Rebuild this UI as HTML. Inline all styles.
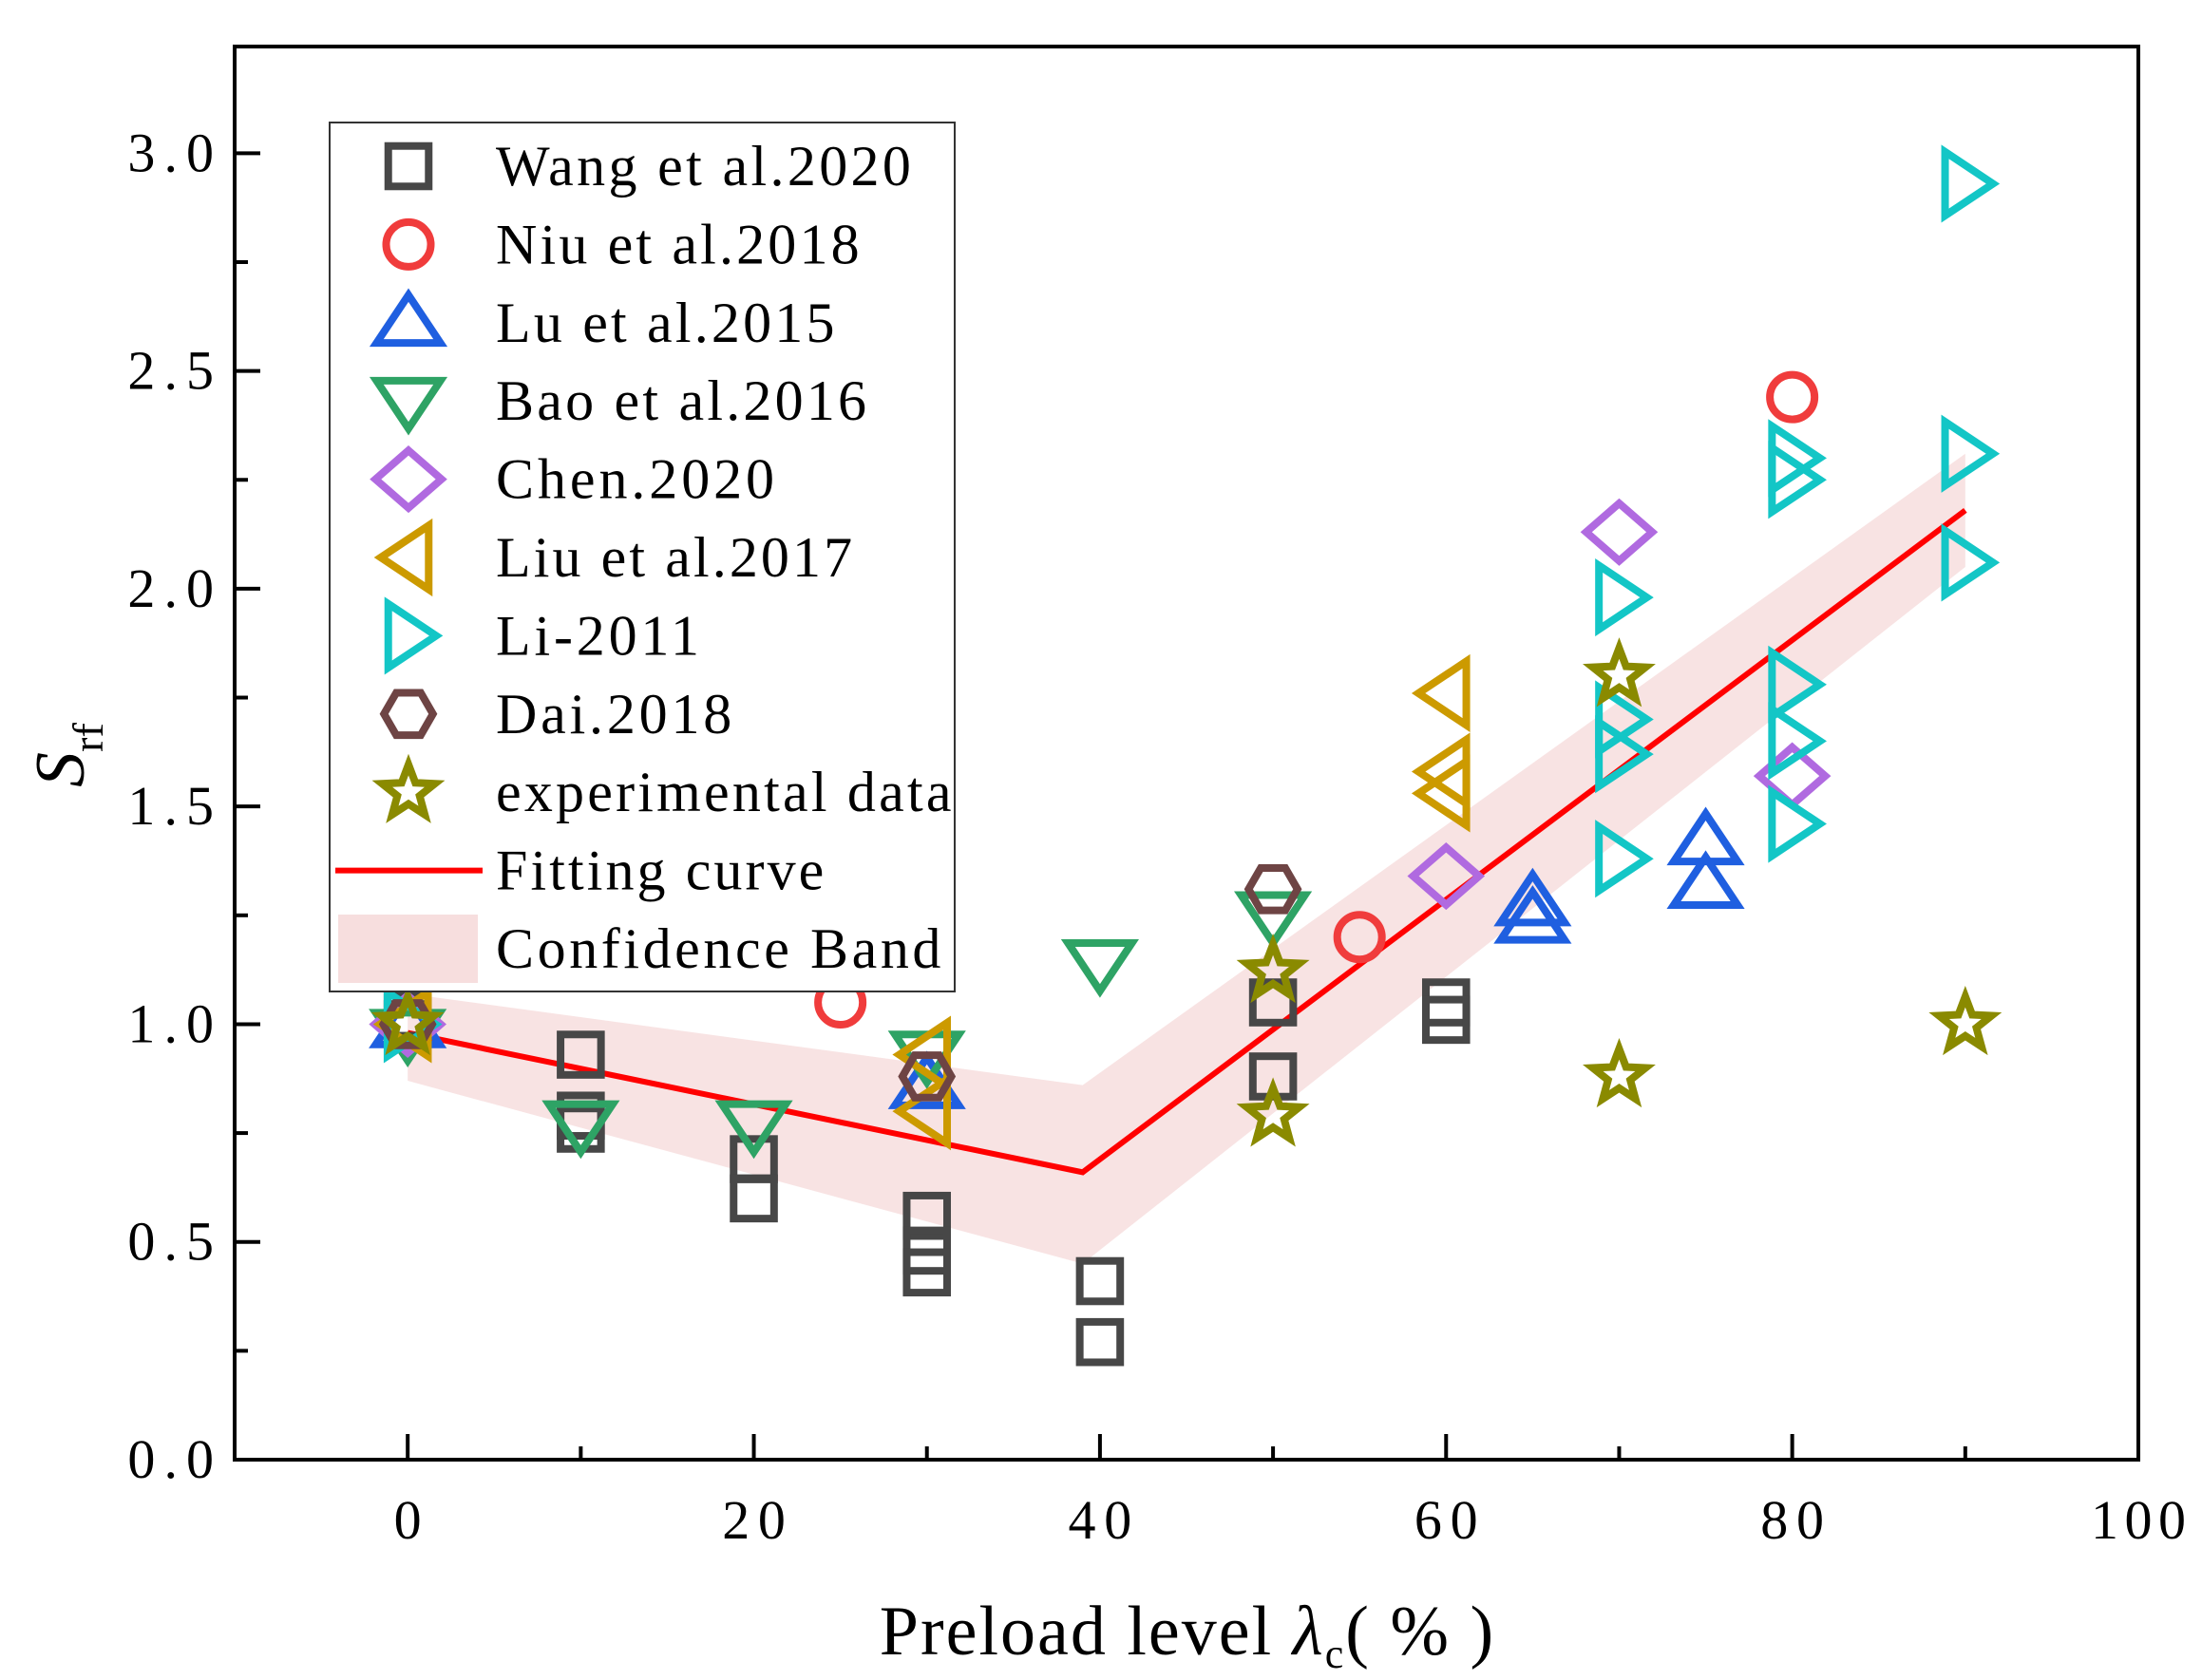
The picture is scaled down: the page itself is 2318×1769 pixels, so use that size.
<!DOCTYPE html>
<html><head><meta charset="utf-8"><style>
html,body{margin:0;padding:0;background:#fff;}
svg{display:block;font-family:"Liberation Serif",serif;}
</style></head><body>
<svg id="chart" width="2318" height="1769" viewBox="0 0 2318 1769" xmlns="http://www.w3.org/2000/svg">
<g id="band"></g>
<g id="fit"></g>
<g id="marks"></g>
<g id="axes"></g>
<g id="legend"></g>
</svg>
<script>
const xTicks=[0,20,40,60,80,100];
const yTicks=[0.0,0.5,1.0,1.5,2.0,2.5,3.0];
const wangX=[0,0,10,10,10,20,20,30,30,30,40,40,50,50,60,60];
const wangY=[1.0,1.02,0.93,0.79,0.76,0.69,0.6,0.56,0.48,0.43,0.41,0.27,1.05,0.88,1.05,1.01];
const niuX=[0,25,55,80];
const niuY=[1.0,1.05,1.2,2.44];
const luX=[0,30,65,65,75,75];
const luY=[1.0,0.86,1.28,1.24,1.42,1.32];
const baoX=[0,10,20,30,40,50];
const baoY=[0.98,0.77,0.77,0.93,1.14,1.25];
const chenX=[0,60,70,80];
const chenY=[1.0,1.34,2.13,1.57];
const liuX=[0,30,30,60,60,60];
const liuY=[1.0,0.93,0.8,1.76,1.58,1.53];
const liX=[0,70,70,70,70,80,80,80,80,80,90,90,90];
const liY=[1.0,1.98,1.7,1.62,1.38,2.3,2.25,1.78,1.65,1.46,2.93,2.31,2.06];
const daiX=[0,30,50];
const daiY=[1.0,0.88,1.31];
const expX=[0,50,50,70,70,90];
const expY=[1.0,1.12,0.79,1.8,0.88,1.0];
const fitX=[0,39,90];
const fitY=[0.98,0.66,2.18];
const bandX=[0,39,90];
const bandUpper=[1.07,0.86,2.31];
const bandLower=[0.87,0.45,2.05];

const L=247,R=2251,T=49,B=1537,XMIN=-10,XMAX=100,YMIN=0,YMAX=3.245;
const sx=v=>L+(v-XMIN)/(XMAX-XMIN)*(R-L);
const sy=v=>B-(v-YMIN)/(YMAX-YMIN)*(B-T);
const NS="http://www.w3.org/2000/svg";
function mk(tag,attrs,parent){const e=document.createElementNS(NS,tag);for(const k in attrs)e.setAttribute(k,attrs[k]);parent.appendChild(e);return e;}
function widen(t,f){const w=t.getComputedTextLength();t.setAttribute('textLength',w*f);t.setAttribute('lengthAdjust','spacing');}

const bandG=document.getElementById('band');
let pts=bandX.map((x,i)=>sx(x)+','+sy(bandUpper[i]));
for(let i=bandX.length-1;i>=0;i--)pts.push(sx(bandX[i])+','+sy(bandLower[i]));
const bp=mk('polygon',{points:pts.join(' '),fill:'#f7dede',opacity:'0.85'},bandG);



const fitG=document.getElementById('fit');
const fl=mk('polyline',{points:fitX.map((x,i)=>sx(x)+','+sy(fitY[i])).join(' '),fill:'none',stroke:'#ff0000','stroke-width':6},fitG);



const SW=8,K=1.12;
function marker(type,cx,cy,color,parent){
  let e;
  const a={fill:'none',stroke:color,'stroke-width':SW,'stroke-linejoin':'miter'};
  if(type==='square'){e=mk('rect',Object.assign({x:cx-19*K,y:cy-19*K,width:38*K,height:38*K},a),parent);}
  else if(type==='circle'){e=mk('circle',Object.assign({cx:cx,cy:cy,r:21*K},a),parent);}
  else if(type==='hex'){const p=[];for(let k=0;k<6;k++){const an=Math.PI/3*k;p.push((cx+23*K*Math.cos(an))+','+(cy+23*K*Math.sin(an)));}e=mk('polygon',Object.assign({points:p.join(' ')},a),parent);}
  else if(type==='diamond'){e=mk('polygon',Object.assign({points:`${cx},${cy-27*K} ${cx+31*K},${cy} ${cx},${cy+27*K} ${cx-31*K},${cy}`},a),parent);}
  else if(type==='up'){e=mk('polygon',Object.assign({points:`${cx},${cy-26*K} ${cx+30*K},${cy+19*K} ${cx-30*K},${cy+19*K}`},a),parent);}
  else if(type==='down'){e=mk('polygon',Object.assign({points:`${cx},${cy+26*K} ${cx+30*K},${cy-19*K} ${cx-30*K},${cy-19*K}`},a),parent);}
  else if(type==='left'){e=mk('polygon',Object.assign({points:`${cx-26*K},${cy} ${cx+19*K},${cy-30*K} ${cx+19*K},${cy+30*K}`},a),parent);}
  else if(type==='right'){e=mk('polygon',Object.assign({points:`${cx+26*K},${cy} ${cx-19*K},${cy-30*K} ${cx-19*K},${cy+30*K}`},a),parent);}
  else if(type==='star'){const p=[];for(let k=0;k<10;k++){const r=k%2?11*K:26*K;const an=-Math.PI/2+Math.PI/5*k;p.push((cx+r*Math.cos(an))+','+(cy+r*Math.sin(an)));}e=mk('polygon',Object.assign({points:p.join(' ')},a),parent);}
  return e;
}
const series=[
 ['wang','square','#474747',wangX,wangY,'Wang et al.2020'],
 ['niu','circle','#f03c3c',niuX,niuY,'Niu et al.2018'],
 ['lu','up','#1f5fe0',luX,luY,'Lu et al.2015'],
 ['bao','down','#2ea365',baoX,baoY,'Bao et al.2016'],
 ['chen','diamond','#b06ae0',chenX,chenY,'Chen.2020'],
 ['liu','left','#cc9a00',liuX,liuY,'Liu et al.2017'],
 ['li','right','#13c6c6',liX,liY,'Li-2011'],
 ['dai','hex','#6e4444',daiX,daiY,'Dai.2018'],
 ['exp','star','#8a8a00',expX,expY,'experimental data']
];
const marksG=document.getElementById('marks');
series.forEach(s=>{
  const g=mk('g',{},marksG);
  
  
  s[3].forEach((x,i)=>{
    const m=marker(s[1],sx(x),sy(s[4][i]),s[2],g);
    
    
  });
});

const ax=document.getElementById('axes');
mk('rect',{x:L,y:T,width:R-L,height:B-T,fill:'none',stroke:'#000','stroke-width':4},ax);
xTicks.forEach(v=>{
  const x=sx(v);
  mk('line',{x1:x,y1:B,x2:x,y2:B-27,stroke:'#000','stroke-width':4},ax);
  const t=mk('text',{x:x,y:1620,'font-size':58,'text-anchor':'middle'},ax);
  t.textContent=String(v);
  
  
  widen(t,1.15);
});
for(let v=10;v<100;v+=20){const x=sx(v);mk('line',{x1:x,y1:B,x2:x,y2:B-14,stroke:'#000','stroke-width':4},ax);}
yTicks.forEach(v=>{
  const y=sy(v);
  mk('line',{x1:L,y1:y,x2:L+27,y2:y,stroke:'#000','stroke-width':4},ax);
  const t=mk('text',{x:225,y:y+19,'font-size':58,'text-anchor':'end'},ax);
  t.textContent=v.toFixed(1);
  
  
  widen(t,1.25);
});
for(let v=0.25;v<3.2;v+=0.5){const y=sy(v);mk('line',{x1:L,y1:y,x2:L+14,y2:y,stroke:'#000','stroke-width':4},ax);}
const xt=mk('text',{x:1250,y:1742,'font-size':74,'text-anchor':'middle','letter-spacing':'2'},ax);
xt.innerHTML='Preload level <tspan font-style="italic">λ</tspan><tspan font-size="44" dy="14">c</tspan><tspan dy="-14">( % )</tspan>';


const yt=mk('text',{transform:'translate(88,795) rotate(-90)','font-size':74,'text-anchor':'middle'},ax);
yt.innerHTML='<tspan font-style="italic">S</tspan><tspan font-size="46" dy="20">rf</tspan>';



const lg=document.getElementById('legend');
const lb=mk('rect',{x:347,y:129,width:658,height:915,fill:'#fff',stroke:'#333','stroke-width':2},lg);


const rowY=i=>175+i*82.4;
series.forEach((s,i)=>{
  const g=mk('g',{},lg);
  
  
  marker(s[1],430,rowY(i),s[2],g);
  const t=mk('text',{x:522,y:rowY(i)+20,'font-size':60},g);
  t.textContent=s[5];
  widen(t,1.12);
});
let g=mk('g',{},lg);


mk('line',{x1:353,y1:rowY(9),x2:508,y2:rowY(9),stroke:'#ff0000','stroke-width':6},g);
let t=mk('text',{x:522,y:rowY(9)+20,'font-size':60},g);t.textContent='Fitting curve';widen(t,1.12);
g=mk('g',{},lg);


mk('rect',{x:356,y:rowY(10)-36,width:147,height:72,fill:'#f7dede'},g);
t=mk('text',{x:522,y:rowY(10)+20,'font-size':60},g);t.textContent='Confidence Band';widen(t,1.12);
</script>
</body></html>
